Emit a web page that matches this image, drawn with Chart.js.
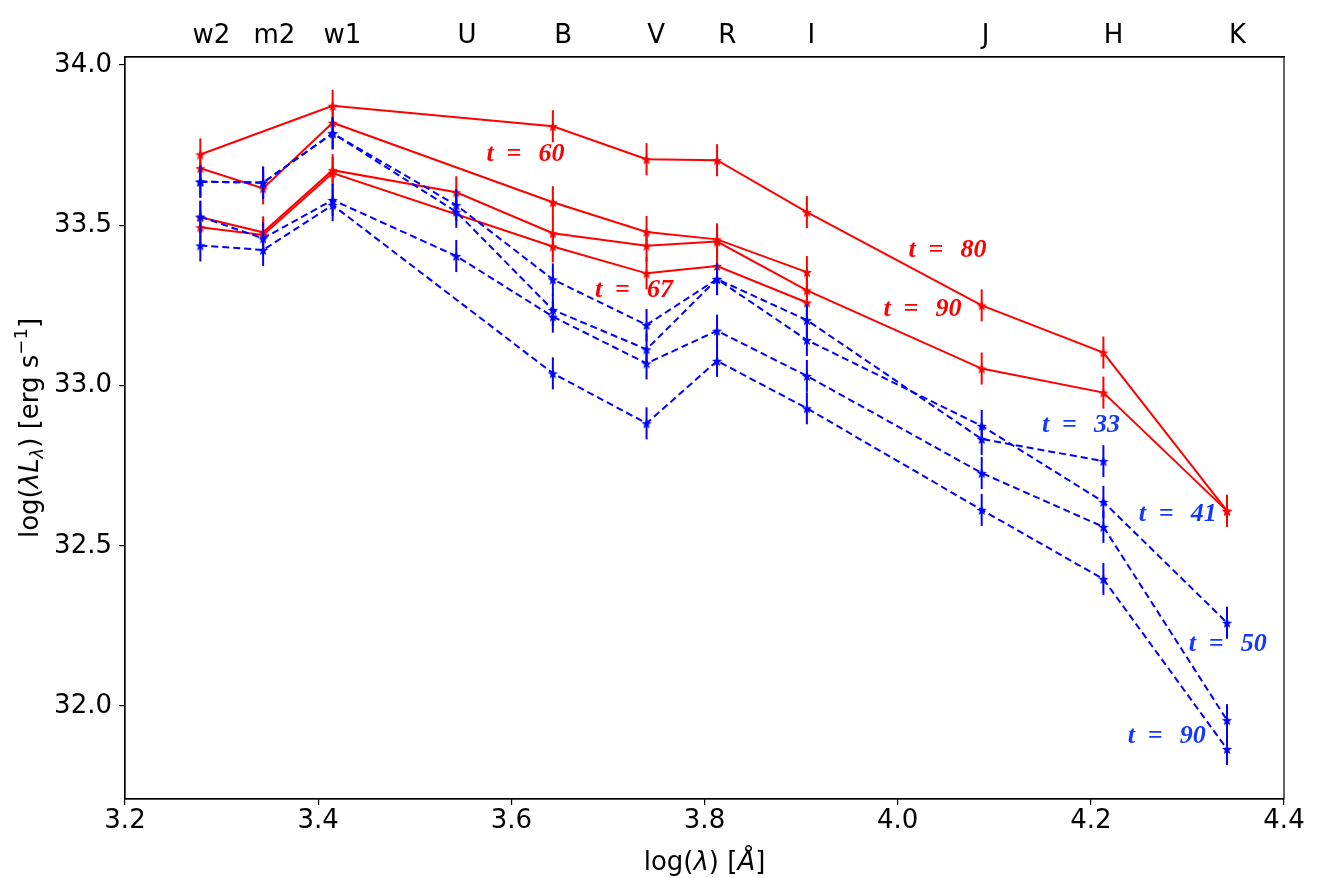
<!DOCTYPE html>
<html>
<head>
<meta charset="utf-8">
<title>SED evolution</title>
<script src="https://cdn.jsdelivr.net/npm/chart.js@4.4.1/dist/chart.umd.min.js"></script>
<style>
  html, body { margin: 0; padding: 0; background: #fff; }
  canvas { display: block; }
</style>
</head>
<body>
<canvas id="sedChart" width="1327" height="878"></canvas>
<script>
// log10 of the filter wavelengths (Angstrom): w2 m2 w1 U B V R I J H K
const logLambda = [3.278, 3.343, 3.415, 3.543, 3.643, 3.740, 3.813, 3.906, 4.087, 4.213, 4.341];

// filter names shown on the top axis, and where they sit
const filterNames = ['w2', 'm2', 'w1', 'U', 'B', 'V', 'R', 'I', 'J', 'H', 'K'];
const filterTickPos = [3.2895, 3.3546, 3.4251, 3.5541, 3.6536, 3.7499, 3.8235, 3.9106, 4.0909, 4.2235, 4.3520];

const xTicks = [3.2, 3.4, 3.6, 3.8, 4.0, 4.2, 4.4];
const yTicks = [32.0, 32.5, 33.0, 33.5, 34.0];

// red (solid) epochs, log(lambda L_lambda); null = no point in that band
const red80 = [33.721, null, 33.873, null, 33.809, 33.706, 33.703, 33.541, 33.250, 33.103, 32.609];
const red60 = [33.678, 33.615, 33.820, null, 33.572, 33.479, 33.456, 33.354, null, null, null];
const red90 = [33.525, 33.478, 33.672, 33.603, 33.475, 33.436, 33.449, 33.297, 33.053, 32.978, 32.609];
const red67 = [33.494, 33.470, 33.663, null, 33.434, 33.350, 33.373, 33.259, null, null, null];

// blue (dashed) epochs
const blue33 = [33.636, 33.633, 33.787, 33.563, 33.331, 33.189, 33.332, 33.204, 32.833, 32.764, null];
const blue41 = [33.636, 33.633, 33.787, 33.542, 33.236, 33.113, 33.332, 33.142, 32.874, 32.637, 32.260];
const blue50 = [33.527, 33.459, 33.579, 33.404, 33.215, 33.069, 33.171, 33.030, 32.727, 32.559, 31.956];
const blue90 = [33.437, 33.423, 33.563, null, 33.038, 32.882, 33.077, 32.929, 32.612, 32.396, 31.866];

// half length of the error bars (same for every point)
const yErr = 0.05;

// the "t = .." labels written on the plot (data coordinates of their left baseline)
const noteText = ['60', '67', '80', '90', '33', '41', '50', '90'];
const noteX = [3.5744, 3.6866, 4.0112, 3.9853, 4.1494, 4.2495, 4.3013, 4.2381];
const noteY = [33.700, 33.276, 33.401, 33.217, 32.855, 32.578, 32.173, 31.884];
const noteRed = [true, true, true, true, false, false, false, false];

const RED = '#ff0000';
const BLUE = '#0000ff';
const BLUE_TEXT = '#1438ff';

// filled five point star, like matplotlib's '*' marker
function makeStar(color) {
    const c = document.createElement('canvas');
    const s = 12;
    c.width = s;
    c.height = s;
    const g = c.getContext('2d');
    g.fillStyle = color;
    g.beginPath();
    for (let i = 0; i < 10; i++) {
        const r = i % 2 === 0 ? 5.4 : 2.3;
        const a = -Math.PI / 2 + i * Math.PI / 5;
        const px = s / 2 + r * Math.cos(a);
        const py = s / 2 + 0.6 + r * Math.sin(a);
        if (i === 0) g.moveTo(px, py); else g.lineTo(px, py);
    }
    g.closePath();
    g.fill();
    return c;
}

const toPoints = values => values.map((v, i) => ({ x: logLambda[i], y: v }));

function series(label, values, color, dashed) {
    return {
        label: label,
        data: toPoints(values),
        borderColor: color,
        backgroundColor: color,
        borderWidth: 2,
        borderDash: dashed ? [7, 4] : [],
        pointStyle: makeStar(color),
        pointRadius: 5,
        spanGaps: true,
        xAxisID: 'x',
        yAxisID: 'y'
    };
}

// blue first so it is drawn on top of the red lines
const datasets = [
    series('t = 33', blue33, BLUE, true),
    series('t = 41', blue41, BLUE, true),
    series('t = 50', blue50, BLUE, true),
    series('t = 90', blue90, BLUE, true),
    series('t = 80', red80, RED, false),
    series('t = 60', red60, RED, false),
    series('t = 90', red90, RED, false),
    series('t = 67', red67, RED, false)
];

// --- vertical error bars, drawn just before each dataset ---
const errorBars = {
    id: 'errorBars',
    beforeDatasetDraw(chart, args) {
        const ds = chart.data.datasets[args.index];
        const xs = chart.scales.x, ys = chart.scales.y;
        const ctx = chart.ctx;
        ctx.save();
        ctx.strokeStyle = ds.borderColor;
        ctx.lineWidth = 2;
        ds.data.forEach(p => {
            if (p.y === null) return;
            const px = xs.getPixelForValue(p.x);
            ctx.beginPath();
            ctx.moveTo(px, ys.getPixelForValue(p.y - yErr));
            ctx.lineTo(px, ys.getPixelForValue(p.y + yErr));
            ctx.stroke();
        });
        ctx.restore();
    }
};

// draw a run of text pieces with different fonts, centred on x
function drawRich(ctx, pieces, x, y) {
    let total = 0;
    pieces.forEach(p => { ctx.font = p.font; total += ctx.measureText(p.text).width; });
    let cx = x - total / 2;
    pieces.forEach(p => {
        ctx.font = p.font;
        ctx.fillText(p.text, cx, y + (p.dy || 0));
        cx += ctx.measureText(p.text).width;
    });
}

// --- frame, axis titles and the "t = .." notes ---
const decorations = {
    id: 'decorations',
    afterDraw(chart) {
        const ctx = chart.ctx;
        const area = chart.chartArea;
        const xs = chart.scales.x, ys = chart.scales.y;

        ctx.save();
        ctx.strokeStyle = '#000';
        ctx.lineWidth = 1.2;
        ctx.strokeRect(area.left, area.top, area.right - area.left, area.bottom - area.top);

        const n = '26px "DejaVu Sans"';
        const it = 'italic 26px "DejaVu Sans"';
        const small = '18px "DejaVu Sans"';
        const smallIt = 'italic 18px "DejaVu Sans"';
        ctx.fillStyle = '#000';
        ctx.textAlign = 'left';
        ctx.textBaseline = 'alphabetic';

        // x axis title
        drawRich(ctx, [
            { text: 'log(', font: n },
            { text: 'λ', font: it },
            { text: ') [', font: n },
            { text: 'Å', font: it },
            { text: ']', font: n }
        ], (area.left + area.right) / 2, 870);

        // y axis title, rotated
        ctx.save();
        ctx.translate(38, (area.top + area.bottom) / 2);
        ctx.rotate(-Math.PI / 2);
        drawRich(ctx, [
            { text: 'log(', font: n },
            { text: 'λL', font: it },
            { text: 'λ', font: smallIt, dy: 5 },
            { text: ') [erg s', font: n },
            { text: '−1', font: small, dy: -11 },
            { text: ']', font: n }
        ], 0, 0);
        ctx.restore();

        // epoch notes
        ctx.font = 'italic bold 26px "Liberation Serif"';
        noteText.forEach((txt, i) => {
            const px = xs.getPixelForValue(noteX[i]);
            const py = ys.getPixelForValue(noteY[i]);
            ctx.fillStyle = noteRed[i] ? RED : BLUE_TEXT;
            ctx.fillText('t', px, py);
            ctx.fillText('=', px + 20, py);
            ctx.fillText(txt, px + 52, py);
        });
        ctx.restore();
    }
};

Chart.defaults.font.family = '"DejaVu Sans"';
Chart.defaults.color = '#000';

const tickFont = { family: '"DejaVu Sans"', size: 26 };

new Chart(document.getElementById('sedChart'), {
    type: 'line',
    data: { datasets: datasets },
    options: {
        responsive: false,
        animation: false,
        devicePixelRatio: 1,
        layout: { padding: { left: 0, right: 43, top: 0, bottom: 0 } },
        plugins: {
            legend: { display: false },
            tooltip: { enabled: false }
        },
        scales: {
            x: {
                type: 'linear',
                position: 'bottom',
                min: 3.2,
                max: 4.4,
                afterBuildTicks: s => { s.ticks = xTicks.map(v => ({ value: v })); },
                afterFit: s => { s.height = 79; },
                grid: { drawOnChartArea: false, tickLength: 6, color: '#000', lineWidth: 1.2 },
                border: { color: '#000', width: 1.2 },
                ticks: {
                    font: tickFont, color: '#000', padding: 1,
                    maxRotation: 0, autoSkip: false,
                    callback: v => Number(v).toFixed(1)
                }
            },
            x2: {
                type: 'linear',
                position: 'top',
                min: 3.2,
                max: 4.4,
                afterBuildTicks: s => { s.ticks = filterTickPos.map(v => ({ value: v })); },
                afterFit: s => { s.height = 57; },
                grid: { drawOnChartArea: false, drawTicks: false },
                border: { color: '#000', width: 1.2 },
                ticks: {
                    font: tickFont, color: '#000', padding: 5,
                    maxRotation: 0, autoSkip: false,
                    callback: (v, i) => filterNames[i]
                }
            },
            y: {
                type: 'linear',
                min: 31.71,
                max: 34.025,
                afterBuildTicks: s => { s.ticks = yTicks.map(v => ({ value: v })); },
                afterFit: s => { s.width = 125; },
                grid: { drawOnChartArea: false, tickLength: 6, color: '#000', lineWidth: 1.2 },
                border: { color: '#000', width: 1.2 },
                ticks: {
                    font: tickFont, color: '#000', padding: 7,
                    callback: v => Number(v).toFixed(1)
                }
            }
        }
    },
    plugins: [errorBars, decorations]
});
</script>
</body>
</html>
